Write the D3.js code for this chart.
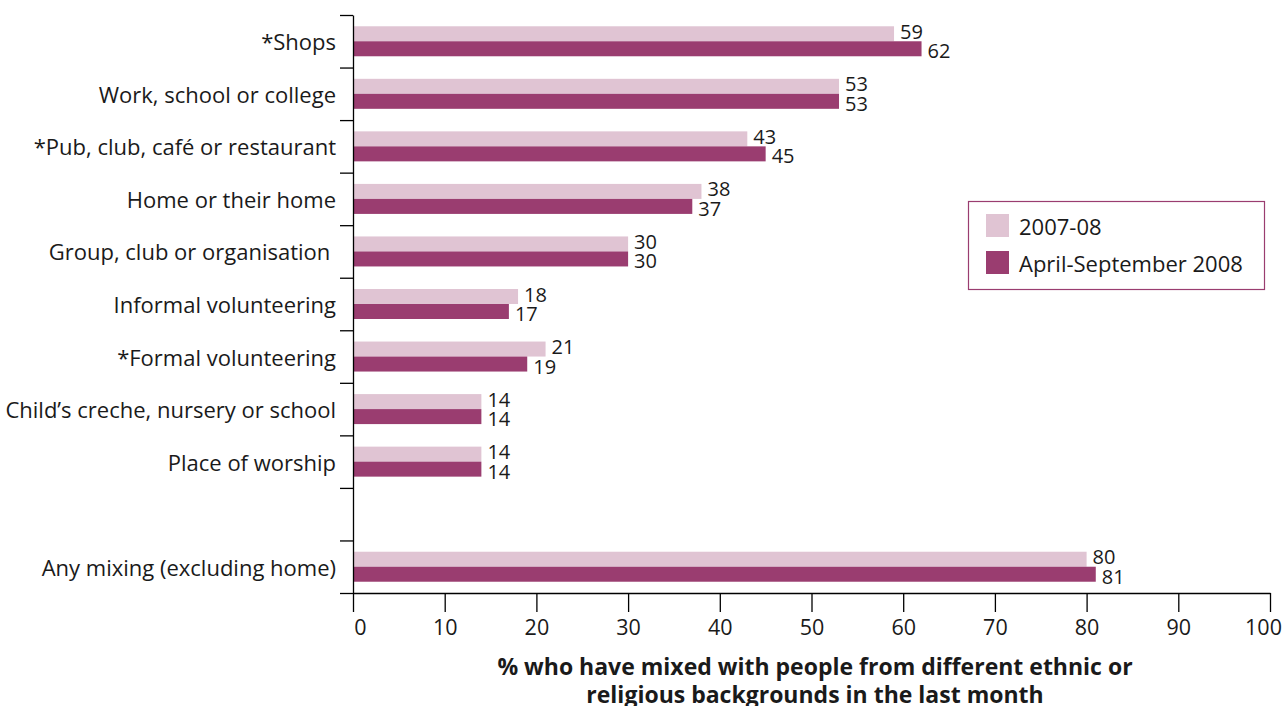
<!DOCTYPE html>
<html>
<head>
<meta charset="utf-8">
<script src="https://cdn.jsdelivr.net/npm/d3@7/dist/d3.min.js"></script>
<style>
  html, body { margin: 0; padding: 0; background: #fff; }
  svg { display: block; font-family: "Open Sans", "Noto Sans", sans-serif; }
</style>
</head>
<body>
<svg id="chart" width="1285" height="706"></svg>
<script>
// Places where people mixed; an empty slot separates the summary row
const categories = [
  "*Shops",
  "Work, school or college",
  "*Pub, club, café or restaurant",
  "Home or their home",
  "Group, club or organisation ",
  "Informal volunteering",
  "*Formal volunteering",
  "Child\u2019s creche, nursery or school",
  "Place of worship",
  "",
  "Any mixing (excluding home)"
];
const series2007 = [59, 53, 43, 38, 30, 18, 21, 14, 14, null, 80];
const seriesAprSep2008 = [62, 53, 45, 37, 30, 17, 19, 14, 14, null, 81];
const seriesNames = ["2007-08", "April-September 2008"];
const xTicks = [0, 10, 20, 30, 40, 50, 60, 70, 80, 90, 100];
const axisTitle = [
  "% who have mixed with people from different ethnic or",
  "religious backgrounds in the last month"
];

const colors = ["#e0c4d3", "#9a3d70"];
const textColor = "#1a1a1a";

const svg = d3.select("#chart");
const plotLeft = 353, plotRight = 1270, plotTop = 15, plotBottom = 593;

const x = d3.scaleLinear().domain([0, 100]).range([plotLeft, plotRight]);
const y = d3.scaleBand().domain(d3.range(categories.length)).range([plotTop, plotBottom]);
const edges = d3.scaleLinear().domain([0, categories.length]).range([plotTop, plotBottom]);

const barH = 15;
const offset = (y.bandwidth() - 2 * barH) / 2;

// Bars and value labels
const seriesList = [series2007, seriesAprSep2008];
seriesList.forEach((vals, s) => {
  const rows = vals.map((v, i) => ({ v, i })).filter(d => d.v !== null);
  svg.append("g").selectAll("rect").data(rows).join("rect")
    .attr("x", x(0))
    .attr("y", d => y(d.i) + offset + s * barH)
    .attr("width", d => x(d.v) - x(0))
    .attr("height", barH)
    .attr("fill", colors[s]);

  svg.append("g").selectAll("text").data(rows).join("text")
    .attr("x", d => x(d.v) + 6)
    .attr("y", d => y(d.i) + offset + s * barH + barH / 2 + (s === 0 ? -2.5 : 2))
    .attr("dominant-baseline", "central")
    .attr("font-size", 20)
    .attr("fill", textColor)
    .text(d => d.v);
});

// Y axis with ticks at the band edges
const yAxis = svg.append("g")
  .attr("transform", `translate(${plotLeft},0)`)
  .call(d3.axisLeft(edges).tickValues(d3.range(categories.length + 1))
    .tickSize(13).tickSizeOuter(0).tickFormat(""));
yAxis.select(".domain").attr("stroke", "#000").attr("stroke-width", 1.3);
yAxis.selectAll(".tick line").attr("stroke", "#000").attr("stroke-width", 1.3);

// Category labels
svg.append("g").selectAll("text").data(categories).join("text")
  .attr("x", 336)
  .attr("y", (d, i) => y(i) + y.bandwidth() / 2)
  .attr("text-anchor", "end")
  .attr("dominant-baseline", "central")
  .attr("font-size", 22)
  .attr("fill", textColor)
  .style("white-space", "pre")
  .text(d => d);

// X axis; the end labels are nudged inwards
const xAxis = svg.append("g")
  .attr("transform", `translate(0,${plotBottom})`)
  .call(d3.axisBottom(x).tickValues(xTicks).tickSize(19).tickSizeOuter(0).tickPadding(8));
xAxis.select(".domain").attr("stroke", "#000").attr("stroke-width", 1.3);
xAxis.selectAll(".tick line").attr("stroke", "#000").attr("stroke-width", 1.3);
xAxis.selectAll(".tick text")
  .attr("font-size", 21.5)
  .attr("font-family", "\"Open Sans\", \"Noto Sans\", sans-serif")
  .attr("fill", textColor)
  .attr("dx", d => d === 0 ? 7 : d === 100 ? -7 : 0);

// Axis title
svg.append("g").selectAll("text").data(axisTitle).join("text")
  .attr("x", 815)
  .attr("y", (d, i) => 666 + i * 28)
  .attr("text-anchor", "middle")
  .attr("dominant-baseline", "central")
  .attr("font-size", 23)
  .attr("font-weight", "bold")
  .attr("fill", textColor)
  .text(d => d);

// Legend
const legend = svg.append("g");
legend.append("rect")
  .attr("x", 968.5).attr("y", 201.5)
  .attr("width", 296).attr("height", 88)
  .attr("fill", "#fff")
  .attr("stroke", colors[1]).attr("stroke-width", 1.2);
seriesNames.forEach((name, i) => {
  legend.append("rect")
    .attr("x", 986).attr("y", 214 + i * 37)
    .attr("width", 23).attr("height", 23)
    .attr("fill", colors[i]);
  legend.append("text")
    .attr("x", 1019).attr("y", 225.5 + i * 37)
    .attr("dominant-baseline", "central")
    .attr("font-size", 22)
    .attr("fill", textColor)
    .text(name);
});
</script>
</body>
</html>
